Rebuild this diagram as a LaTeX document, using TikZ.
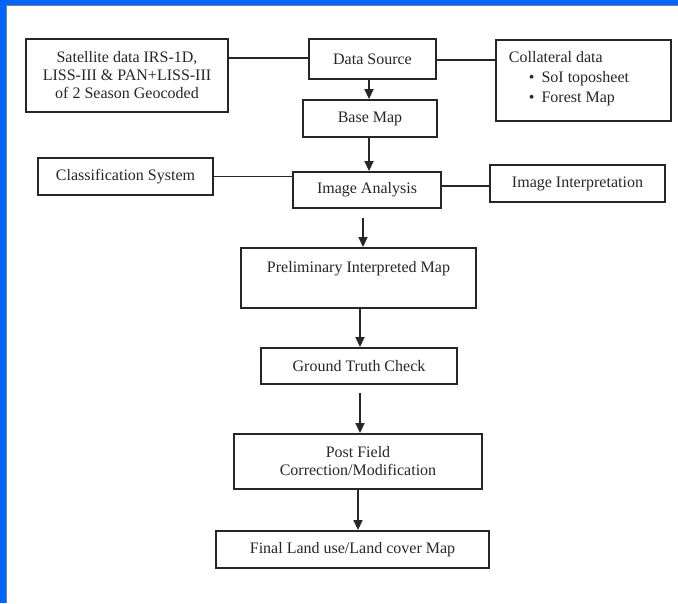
\documentclass[tikz,border=0pt]{standalone}
\usepackage{fontspec}
\setmainfont{Liberation Serif}
\usetikzlibrary{arrows.meta}
\usetikzlibrary{positioning}
\definecolor{frameblue}{RGB}{0,102,255}
\tikzset{
    box/.style = {draw=black!85,line width=1.9pt,align=center,inner sep=2pt,text=black!85,
        font=\fontsize{16}{18}\selectfont},
    flow/.style = {draw=black!85,line width=1.6pt,-{Triangle[length=10pt,width=9pt]}},
    link/.style = {draw=black!85,line width=1.6pt}
}

\begin{document}
\begin{tikzpicture}[x=1pt,y=-1pt]
        \useasboundingbox (0,0) rectangle (678,603);
        % Frame
        \fill[frameblue] (0,0) rectangle (678,5);
        \fill[frameblue] (0,0) rectangle (6,603);
        \draw[gray,line width=0.8pt] (6.5,603) |- (678,5.5);
        % Sources
        \path (127,75.5) node[box,minimum width=202pt,minimum height=73pt] (sat)
            {Satellite data IRS-1D,\\LISS-III \& PAN+LISS-III\\of 2 Season Geocoded};
        \path (372.5,59) node[box,minimum width=127pt,minimum height=40pt] (src) {Data Source};
        \path (495,39) node[box,anchor=north west,align=left,inner xsep=13pt,inner ysep=0pt,
                minimum width=175pt,minimum height=81pt] (coll)
            {\parbox[t][81pt][t]{149pt}{\fontsize{16}{20}\selectfont
                \rule{0pt}{23pt}Collateral data\\
                \hspace*{20pt}\textbullet\hspace{7pt}SoI toposheet\\
                \hspace*{20pt}\textbullet\hspace{7pt}Forest Map}};
        \path (370,118.5) node[box,minimum width=134pt,minimum height=37pt] (base) {Base Map};
        % Analysis
        \path (125.5,176.5) node[box,minimum width=175pt,minimum height=37pt] (cls) {Classification System};
        \path (367,190) node[box,minimum width=148pt,minimum height=36pt] (ana) {Image Analysis};
        \path (577.5,183.5) node[box,minimum width=175pt,minimum height=37pt] (interp) {Image Interpretation};
        % Outputs
        \path (358.5,278) node[box,minimum width=235pt,minimum height=60pt] (prelim)
            {Preliminary Interpreted Map\\[4pt]~};
        \path (359,366) node[box,minimum width=196pt,minimum height=36pt] (gt) {Ground Truth Check};
        \path (358,461.5) node[box,minimum width=248pt,minimum height=55pt] (post)
            {Post Field\\Correction/Modification};
        \path (352.5,549.5) node[box,minimum width=273pt,minimum height=37pt] (final)
            {Final Land use/Land cover Map};
        % Side links
        \draw[link] ([yshift=1pt]src.west) -- ([yshift=1pt]src.west -| sat.east);
        \draw[link] ([yshift=-1pt]src.east) -- ([yshift=-1pt]src.east -| coll.west);
        \draw[link] (cls.east) -- (cls.east -| ana.west);
        \draw[link] ([yshift=-2.5pt]interp.west) -- ([yshift=-2.5pt]interp.west -| ana.east);
        % Main flow
        \draw[flow] ([xshift=-1pt]base.north |- src.south) -- ([xshift=-1pt]base.north);
        \draw[flow] ([xshift=-1pt]base.south) -- ([xshift=-1pt]base.south |- ana.north);
        \draw[flow] ([xshift=-4pt,yshift=-9pt]ana.south) -- ([xshift=-4pt]ana.south |- prelim.north);
        \draw[flow] ([xshift=1.5pt]prelim.south) -- ([xshift=1.5pt]prelim.south |- gt.north);
        \draw[flow] ([xshift=1pt,yshift=-8pt]gt.south) -- ([xshift=1pt]gt.south |- post.north);
        \draw[flow] (post.south) -- (post.south |- final.north);
    \end{tikzpicture}
\end{document}
